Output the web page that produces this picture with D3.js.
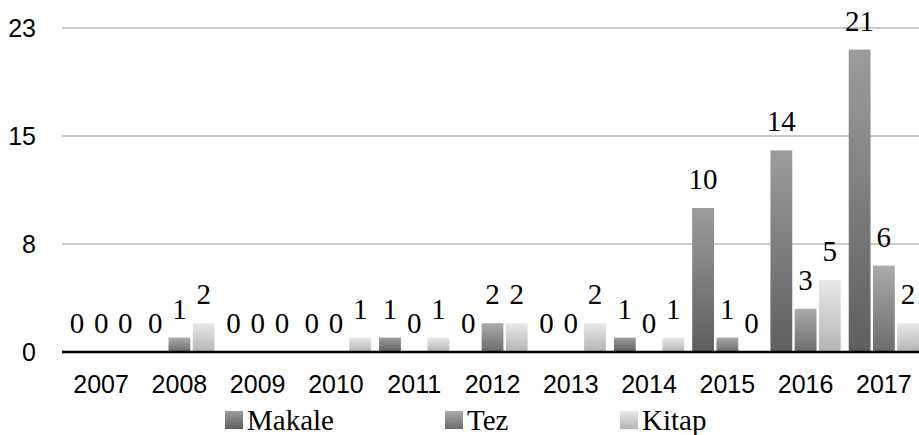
<!DOCTYPE html>
<html>
<head>
<meta charset="utf-8">
<script src="https://cdn.jsdelivr.net/npm/d3@7"></script>
</head>
<body style="margin:0">
<svg id="chart" width="919" height="435" font-family="Liberation Serif"></svg>
<script>
// Data
const years = ['2007', '2008', '2009', '2010', '2011', '2012', '2013', '2014', '2015', '2016', '2017'];
const seriesNames = ['Makale', 'Tez', 'Kitap'];
const makale = [0, 0, 0, 0, 1, 0, 0, 1, 10, 14, 21];
const tez = [0, 1, 0, 0, 0, 2, 0, 0, 1, 3, 6];
const kitap = [0, 2, 0, 1, 1, 2, 2, 1, 0, 5, 2];
const yTickValues = [0, 7.5, 15, 22.5];
const yTickLabels = ['0', '8', '15', '23'];

const width = 919,
  height = 435,
  margin = { top: 28, left: 62, right: -4, bottom: 83 };

const seriesValues = [makale, tez, kitap];
const gradStops = [
  ['#9c9c9c', '#5e5e5e'],
  ['#ababab', '#6c6c6c'],
  ['#e9e9e9', '#b4b4b4'],
];

const svg = d3.select('#chart');

const defs = svg.append('defs');
gradStops.forEach((c, i) => {
  const g = defs
    .append('linearGradient')
    .attr('id', 'grad' + i)
    .attr('x1', 0).attr('y1', 0).attr('x2', 0).attr('y2', 1);
  g.append('stop').attr('offset', '0%').attr('stop-color', c[0]);
  g.append('stop').attr('offset', '100%').attr('stop-color', c[1]);
});

const x = d3
  .scaleBand()
  .domain(years)
  .range([margin.left, width - margin.right]);

const xs = d3
  .scaleBand()
  .domain(seriesNames)
  .range([4, x.bandwidth() - 4])
  .paddingInner(0.1);

const y = d3
  .scaleLinear()
  .domain([0, 22.5])
  .range([height - margin.bottom, margin.top]);

// gridlines
svg
  .append('g')
  .selectAll('line')
  .data(yTickValues.slice(1))
  .join('line')
  .attr('x1', margin.left)
  .attr('x2', width)
  .attr('y1', (d) => y(d))
  .attr('y2', (d) => y(d))
  .attr('stroke', '#cbcbcb')
  .attr('stroke-width', 2);

// y labels
svg
  .append('g')
  .attr('font-family', 'Liberation Sans')
  .attr('font-size', 25)
  .selectAll('text')
  .data(yTickValues)
  .join('text')
  .attr('x', 36)
  .attr('y', (d) => y(d))
  .attr('dy', '0.35em')
  .attr('text-anchor', 'end')
  .text((d, i) => yTickLabels[i]);

// bars
const groups = svg
  .append('g')
  .attr('font-family', 'Liberation Serif')
  .attr('font-size', 29)
  .selectAll('g')
  .data(years)
  .join('g')
  .attr('transform', (d) => `translate(${x(d)},0)`);

const cells = (d, i) => seriesNames.map((s, k) => ({ s, k, v: seriesValues[k][i] }));

groups
  .selectAll('rect')
  .data(cells)
  .join('rect')
  .attr('x', (d) => xs(d.s))
  .attr('width', xs.bandwidth())
  .attr('y', (d) => y(d.v))
  .attr('height', (d) => y(0) - y(d.v))
  .attr('fill', (d) => `url(#grad${d.k})`);

groups
  .selectAll('text')
  .data(cells)
  .join('text')
  .attr('x', (d) => xs(d.s) + xs.bandwidth() / 2)
  .attr('y', (d) => y(d.v) - 19)
  .attr('text-anchor', 'middle')
  .text((d) => d.v);

// baseline
svg
  .append('line')
  .attr('x1', margin.left)
  .attr('x2', width)
  .attr('y1', y(0))
  .attr('y2', y(0))
  .attr('stroke', '#000')
  .attr('stroke-width', 2.5);

// x labels
svg
  .append('g')
  .attr('font-family', 'Liberation Sans')
  .attr('font-size', 25)
  .selectAll('text')
  .data(years)
  .join('text')
  .attr('x', (d) => x(d) + x.bandwidth() / 2)
  .attr('y', 393)
  .attr('text-anchor', 'middle')
  .text((d) => d);

// legend
const legendX = [225, 445, 620];
const legend = svg
  .append('g')
  .attr('font-family', 'Liberation Serif')
  .attr('font-size', 29)
  .selectAll('g')
  .data(seriesNames)
  .join('g')
  .attr('transform', (d, i) => `translate(${legendX[i]},411)`);

legend
  .append('rect')
  .attr('width', 18)
  .attr('height', 18)
  .attr('fill', (d, i) => `url(#grad${i})`);

legend
  .append('text')
  .attr('x', 22)
  .attr('y', 19)
  .text((d) => d);
</script>
</body>
</html>
